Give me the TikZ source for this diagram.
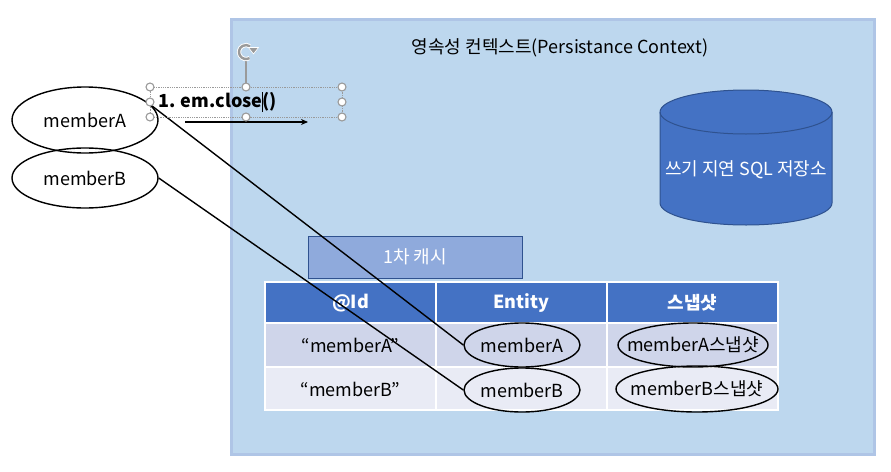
\documentclass[tikz,border=0pt]{standalone}
\usepackage{fontspec}
\setmainfont{Noto Sans CJK KR}
\usetikzlibrary{shapes.geometric,arrows.meta}
\definecolor{ctxfill}{HTML}{BDD7EE}
\definecolor{ctxline}{HTML}{AFC5E6}
\definecolor{dbfill}{HTML}{4472C4}
\definecolor{dbline}{HTML}{2F528F}
\definecolor{cachefill}{HTML}{8FAADC}
\definecolor{rowA}{HTML}{CFD5EA}
\definecolor{rowB}{HTML}{E9EBF5}
\definecolor{handle}{HTML}{9A9A9A}
\newcommand{\fs}{\fontsize{18}{21}\selectfont}
\newcommand{\ovtext}[1]{\makebox[0pt]{#1}}
\tikzset{
  txt/.style={font=\fs, inner sep=0pt},
  oval/.style={draw=black, line width=1.4pt, ellipse, minimum width=#1, inner sep=0pt, font=\fs},
  hd/.style={circle, draw=handle, fill=white, line width=1.1pt, minimum size=8pt, inner sep=0pt},
  cellA/.style={fill=rowA},
  cellB/.style={fill=rowB},
  hcell/.style={fill=dbfill},
  conn/.style={draw=black, line width=1.4pt}
}
\begin{document}
\begin{tikzpicture}[x=1pt,y=-1pt]
\useasboundingbox (0,0) rectangle (891,471);
% persistence context box
\draw[draw=ctxline, fill=ctxfill, line width=3pt] (231,19) rectangle (874,454);
\node[txt] (title) at (560,48) {영속성 컨텍스트(Persistance Context)};
% cylinder
\filldraw[fill=dbfill, draw=dbline, line width=1pt] (660,112) -- (660,203) arc[start angle=180, end angle=0, x radius=86, y radius=22] -- (832,112) arc[start angle=0, end angle=-180, x radius=86, y radius=22] -- cycle;
\draw[dbline, line width=1pt] (660,112) arc[start angle=180, end angle=0, x radius=86, y radius=22];
\node[txt, text=white] (db) at (746,170) {쓰기 지연 SQL 저장소};
% 1st cache label
\node[draw=dbline, fill=cachefill, line width=1pt, minimum width=214pt, minimum height=42pt, inner sep=0pt, text=white, font=\fs] (cache) at (415,257) {1차 캐시};
% table
\fill[hcell] (265,282) rectangle (778,323);
\fill[cellA] (265,323) rectangle (778,367);
\fill[cellB] (265,367) rectangle (778,410);
\draw[white, line width=1.5pt] (265,282) rectangle (778,410);
\draw[white, line width=1.5pt] (265,323) -- (778,323) (265,367) -- (778,367);
\draw[white, line width=1.5pt] (436,282) -- (436,410) (607,282) -- (607,410);
\node[txt, text=white, font=\fs\bfseries] (hdId) at (350.5,303) {@Id};
\node[txt, text=white, font=\fs\bfseries] (hdEnt) at (521.5,303) {Entity};
\node[txt, text=white, font=\fs\bfseries] (hdSnap) at (692.5,303) {스냅샷};
\node[txt] (k1) at (350.5,345) {“memberA”};
\node[txt] (k2) at (350.5,389) {“memberB”};
\node[oval=116pt, minimum height=44pt] (eA) at (522,345) {\ovtext{memberA}};
\node[oval=116pt, minimum height=44pt] (eB) at (522,390) {\ovtext{memberB}};
\node[oval=150pt, minimum height=44pt] (sA) at (693,345) {\ovtext{memberA스냅샷}};
\node[oval=162pt, minimum height=46pt] (sB) at (697,389) {\ovtext{memberB스냅샷}};
% left ellipses
\node[oval=146pt, minimum height=66pt] (mA) at (85,120) {\ovtext{memberA}};
\node[oval=146pt, minimum height=60pt] (mB) at (85,178) {\ovtext{memberB}};
% connectors
\draw[conn] (mA.12) -- (eA.west);
\draw[conn] (mB.east) -- (eB.west);
% text box with selection handles
\draw[handle, densely dotted, line width=0.8pt] (150,87) rectangle (342,117);
\coordinate (rotBase) at (246,87);
\coordinate (rotTop) at (246,60);
\draw[handle, line width=1.1pt] (rotBase) -- (rotTop);
\node[txt, anchor=west, font=\fs\bfseries] (cmd) at (158,102) {1. em.close\makebox[0pt]{\rule[-5pt]{0.8pt}{20pt}}()};
\coordinate (arrS) at (185,122);
\coordinate (arrE) at (308,122);
\draw[black, line width=1.6pt, -{Stealth[length=7pt,width=6pt]}] (arrS) -- (arrE);
\foreach \p [count=\i] in {(150,87),(246,87),(342,87),(150,102),(342,102),(150,117),(246,117),(342,117)}
  \node[hd] (sh\i) at \p {};
% rotate handle
\draw[white, line width=4.2pt] (249.5,58.1) arc[start angle=60, end angle=305, radius=7];
\draw[handle, line width=2.4pt] (249.5,58.1) arc[start angle=60, end angle=305, radius=7];
\filldraw[handle, draw=white, line width=0.6pt] (248.5,47.5) -- (258.5,47.5) -- (253.5,54) -- cycle;
\end{tikzpicture}
\end{document}
